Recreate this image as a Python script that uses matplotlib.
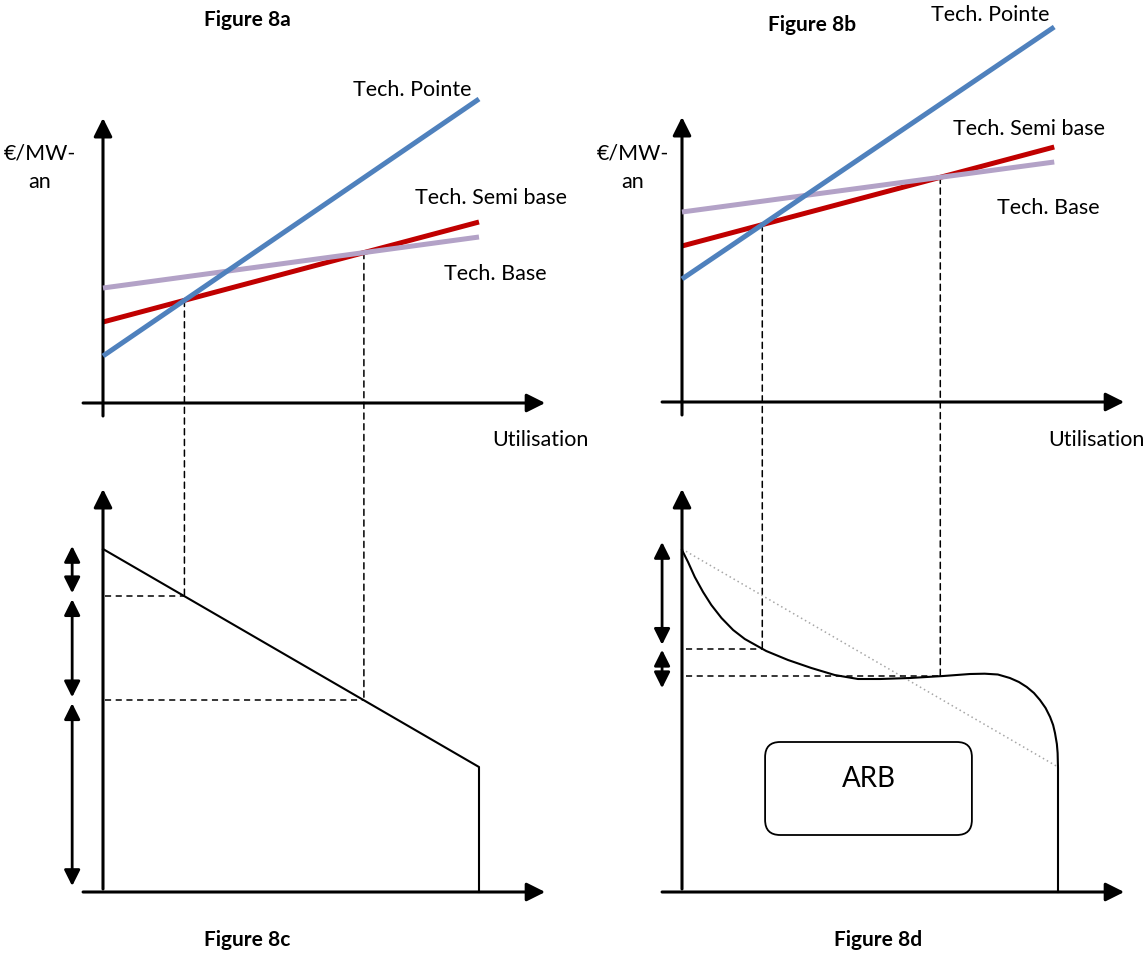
import numpy as np
import matplotlib.pyplot as plt
from matplotlib.transforms import Affine2D
from matplotlib.patches import FancyBboxPatch, ConnectionPatch

plt.rcParams['font.family'] = ['Lato', 'DejaVu Sans']

# utilisation (% de l'annee) aux extremites des droites de cout
util_a = [0, 100]
pointe_a = [47, 304]
semi_a = [81, 181]
base_a = [115, 166]

util_b = [0, 99]
pointe_b = [123, 375]
semi_b = [156, 255]
base_b = [190, 240]

# monotone de charge lineaire (figure 8c)
util_c = [0, 100, 100]
load_c = [343, 125, 0]

# monotone de charge reelle (figure 8d)
util_d = [0, 1.6, 3.4, 5.6, 7.8, 10.5, 13.6, 16.7, 22.4, 28.2, 34.4, 40.6, 46.8,
          52.7, 60.6, 69.5, 76.6, 80.5, 84.0, 87.2, 89.6, 91.7, 93.6, 95.2, 96.7,
          97.9, 98.7, 99.2, 99.7, 99.9, 100, 100]
load_d = [342, 330, 315, 300, 287, 274, 262, 253, 241, 232, 224, 217, 213,
          213, 214, 216, 218, 218.3, 217.5, 214, 210, 205, 199, 192, 184,
          175, 167, 159, 148, 139, 124, 0]

tech_labels = ['Tech. Pointe', 'Tech. Semi base', 'Tech. Base']
colors = ['#4F81BD', '#C00000', '#B3A2C7']

W, H = 1148, 960
fig = plt.figure(figsize=(W / 100, H / 100), dpi=100)
ax = fig.add_axes([0, 0, 1, 1])
ax.set_xlim(0, W)
ax.set_ylim(H, 0)
ax.axis('off')

# one transform per panel: (utilisation %, valeur) -> page
sx = 3.76
tr_a = Affine2D().scale(sx, -1).translate(103, 403) + ax.transData
tr_b = Affine2D().scale(sx, -1).translate(682, 402) + ax.transData
tr_c = Affine2D().scale(sx, -1).translate(103, 892) + ax.transData
tr_d = Affine2D().scale(sx, -1).translate(682, 892) + ax.transData


def cross(u, y1, y2):
    s1 = (y1[1] - y1[0]) / (u[1] - u[0])
    s2 = (y2[1] - y2[0]) / (u[1] - u[0])
    x = (y2[0] - y1[0]) / (s1 - s2)
    return x, y1[0] + s1 * x


def axis_arrow(tr, start, end):
    ax.annotate('', xy=end, xytext=start, xycoords=tr, textcoords=tr,
                arrowprops=dict(arrowstyle='-|>', lw=2.2, color='black',
                                mutation_scale=28, shrinkA=0, shrinkB=0))


def double_arrow(tr, u, y0, y1):
    ax.annotate('', xy=(u, y1), xytext=(u, y0), xycoords=tr, textcoords=tr,
                arrowprops=dict(arrowstyle='<|-|>', lw=2.0, color='black',
                                mutation_scale=24, shrinkA=0, shrinkB=0))


dash = dict(color='black', lw=1.1, linestyle=(0, (4, 3)))

# --- axes
for tr in (tr_a, tr_b):
    axis_arrow(tr, (0, -13), (0, 285))
    axis_arrow(tr, (-5.3, 0), (117.6, 0))
for tr in (tr_c, tr_d):
    axis_arrow(tr, (0, 3), (0, 403))
    axis_arrow(tr, (-5.3, 0), (117.6, 0))

# --- cost lines (8a, 8b)
for tr, u, series in ((tr_a, util_a, (pointe_a, semi_a, base_a)),
                      (tr_b, util_b, (pointe_b, semi_b, base_b))):
    for y, c, z in zip(series, colors, (4, 2, 3)):
        ax.plot(u, y, color=c, lw=3.6, transform=tr, zorder=z,
                solid_capstyle='butt')

# --- load duration curves
ax.plot(util_c, load_c, color='black', lw=1.5, transform=tr_c)
ax.plot(util_c[:2], load_c[:2], color='#A6A6A6', lw=1.1, linestyle=(0, (1, 2)),
        transform=tr_d)
ax.plot(util_d, load_d, color='black', lw=1.5, transform=tr_d,
        solid_joinstyle='round')

# --- projections 8a -> 8c
levels_c = [load_c[0]]
for y1, y2 in ((pointe_a, semi_a), (semi_a, base_a)):
    u, v = cross(util_a, y1, y2)
    lvl = np.interp(u, util_c[:2], load_c[:2])
    levels_c.append(lvl)
    ax.add_artist(ConnectionPatch((u, v), (u, lvl), coordsA=tr_a, coordsB=tr_c, **dash))
    ax.plot([0.4, u], [lvl, lvl], transform=tr_c, **dash)
levels_c.append(0)

# --- projections 8b -> 8d
levels_d = [load_d[0]]
for y1, y2 in ((pointe_b, semi_b), (semi_b, base_b)):
    u, v = cross(util_b, y1, y2)
    lvl = np.interp(u, util_d[:-1], load_d[:-1])
    levels_d.append(lvl)
    ax.add_artist(ConnectionPatch((u, v), (u, lvl), coordsA=tr_b, coordsB=tr_d, **dash))
    ax.plot([1, u], [lvl, lvl], transform=tr_d, **dash)

# --- double arrows on the left of 8c / 8d
for k in range(len(levels_c) - 1):
    double_arrow(tr_c, -8.2, levels_c[k] + 3 if k == 0 else levels_c[k] - 3,
                 levels_c[k + 1] + (3 if k < len(levels_c) - 2 else 6))
double_arrow(tr_d, -5.3, levels_d[0] + 8, levels_d[1] + 4)
double_arrow(tr_d, -5.3, levels_d[1] - 1, levels_d[2] - 12)

# --- ARB box
box = FancyBboxPatch((22.1, 57), 55, 93, boxstyle='round,pad=0,rounding_size=4',
                     mutation_aspect=sx, transform=tr_d, fc='white', ec='black', lw=1.3)
ax.add_patch(box)
ax.text(49.6, 113, 'ARB', transform=tr_d, ha='center', va='center', fontsize=20)

# --- texts
fs = 15.5
for x, y, t in ((247, 20, 'Figure 8a'), (812, 25, 'Figure 8b'),
                (247, 940, 'Figure 8c'), (878, 940, 'Figure 8d')):
    ax.text(x, y, t, ha='center', va='center', fontsize=15, fontweight='bold')

for (x, y), t in zip(((353, 90), (415, 198), (444, 274)), tech_labels):
    ax.text(x, y, t, ha='left', va='center', fontsize=fs)
for (x, y), t in zip(((931, 15), (953, 129), (997, 208)), tech_labels):
    ax.text(x, y, t, ha='left', va='center', fontsize=fs)

for x in (40, 633):
    ax.text(x, 153, '€/MW-', ha='center', va='center', fontsize=fs)
    ax.text(x, 182, 'an', ha='center', va='center', fontsize=fs)

ax.text(492, 440, 'Utilisation', ha='left', va='center', fontsize=fs)
ax.text(1048, 440, 'Utilisation', ha='left', va='center', fontsize=fs)

fig.savefig('out.png', dpi=100)
